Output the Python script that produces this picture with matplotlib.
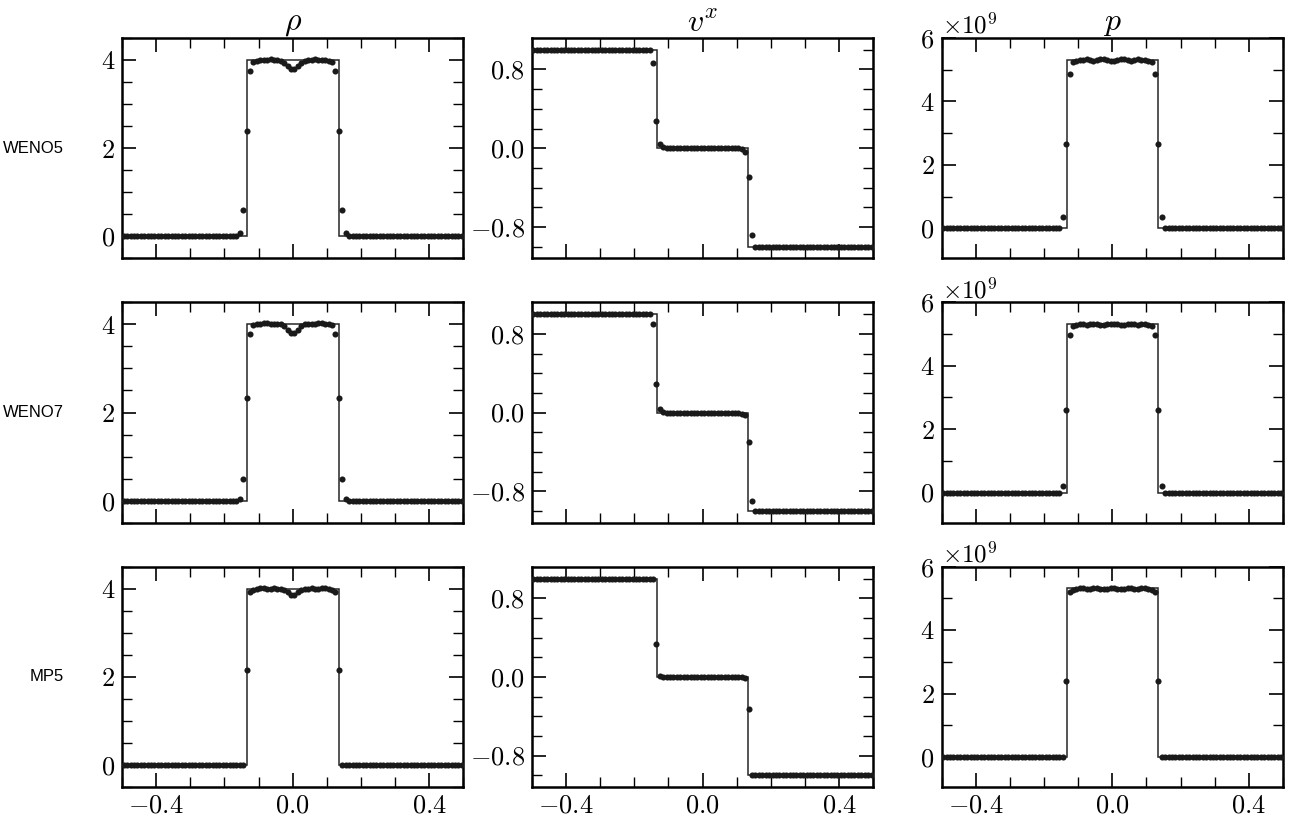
import numpy as np
import matplotlib
matplotlib.use("Agg")
import matplotlib.pyplot as plt
from matplotlib.ticker import MultipleLocator, FuncFormatter, ScalarFormatter

plt.rcParams['font.family'] = 'serif'
plt.rcParams['font.serif'] = ['cmr10', 'DejaVu Serif']
plt.rcParams['mathtext.fontset'] = 'cm'
plt.rcParams['axes.formatter.use_mathtext'] = True

# cell centres, 100 cells on [-0.5, 0.5]
x_cells = np.linspace(-0.495, 0.495, 100)
n_left = 34   # cells left of -0.155
n_right = 34  # cells right of 0.155

# exact solution: piecewise constant between shock positions
exact_edges = [-0.5, -0.134, 0.134, 0.5]
rho_exact = [0.0, 4.0, 0.0]
vx_exact = [1.0, 0.0, -1.0]
p_exact = [0.0, 5.32, 0.0]          # x 1e9

# outer states (left, right) of the numerical solutions
rho_outer = (0.0, 0.0)
vx_outer = (1.0, -1.0)
p_outer = (0.0, 0.0)

# numerical values in the 32 cells from x=-0.155 to x=0.155
rho_weno5 = [0.08, 0.60, 2.39, 3.75,
             3.96, 3.98, 3.99, 4.00, 4.01, 4.02, 4.01, 4.00, 3.98, 3.93, 3.87, 3.80,
             3.80, 3.87, 3.93, 3.98, 4.00, 4.01, 4.02, 4.01, 4.00, 3.99, 3.98, 3.96,
             3.75, 2.39, 0.60, 0.08]
vx_weno5 = [1.00, 0.87, 0.28, 0.04,
            0.01, 0.00, 0.00, 0.00, 0.00, 0.00, 0.00, 0.00, 0.00, 0.00, 0.00, 0.00,
            0.00, 0.00, 0.00, 0.00, 0.00, 0.00, 0.00, 0.00, 0.00, 0.00, 0.00, -0.01,
            -0.04, -0.29, -0.88, -1.00]
p_weno5 = [0.00, 0.34, 2.67, 4.88,
           5.25, 5.28, 5.30, 5.31, 5.33, 5.32, 5.29, 5.30, 5.33, 5.33, 5.30, 5.28,
           5.28, 5.30, 5.33, 5.33, 5.30, 5.29, 5.32, 5.33, 5.31, 5.30, 5.28, 5.25,
           4.88, 2.67, 0.34, 0.00]

rho_weno7 = [0.04, 0.49, 2.34, 3.79,
             3.98, 4.00, 4.01, 4.03, 4.03, 4.02, 4.00, 4.00, 4.00, 3.97, 3.88, 3.81,
             3.81, 3.88, 3.97, 4.00, 4.00, 4.00, 4.02, 4.03, 4.03, 4.01, 4.00, 3.98,
             3.79, 2.34, 0.49, 0.04]
vx_weno7 = [1.00, 0.90, 0.29, 0.04,
            0.01, 0.00, 0.00, 0.00, 0.00, 0.00, 0.00, 0.00, 0.00, 0.00, 0.00, 0.00,
            0.00, 0.00, 0.00, 0.00, 0.00, 0.00, 0.00, 0.00, 0.00, 0.00, 0.00, -0.01,
            -0.03, -0.30, -0.90, -1.00]
p_weno7 = [0.00, 0.20, 2.60, 4.96,
           5.27, 5.30, 5.32, 5.31, 5.29, 5.31, 5.33, 5.32, 5.29, 5.30, 5.33, 5.31,
           5.31, 5.33, 5.30, 5.29, 5.32, 5.33, 5.31, 5.29, 5.31, 5.32, 5.30, 5.27,
           4.96, 2.60, 0.20, 0.00]

rho_mp5 = [0.00, 0.00, 2.15, 3.93,
           3.98, 4.00, 4.01, 4.01, 4.00, 4.00, 4.01, 4.00, 4.00, 3.98, 3.92, 3.86,
           3.86, 3.92, 3.98, 4.00, 4.00, 4.01, 4.00, 4.00, 4.01, 4.01, 4.00, 3.98,
           3.93, 2.15, 0.00, 0.00]
vx_mp5 = [1.00, 1.00, 0.33, 0.01,
          0.00, 0.00, 0.00, 0.00, 0.00, 0.00, 0.00, 0.00, 0.00, 0.00, 0.00, 0.00,
          0.00, 0.00, 0.00, 0.00, 0.00, 0.00, 0.00, 0.00, 0.00, 0.00, 0.00, 0.00,
          -0.01, -0.33, -1.00, -1.00]
p_mp5 = [0.00, 0.00, 2.38, 5.20,
         5.28, 5.30, 5.32, 5.33, 5.31, 5.30, 5.32, 5.33, 5.31, 5.30, 5.31, 5.32,
         5.32, 5.31, 5.30, 5.31, 5.33, 5.32, 5.30, 5.31, 5.33, 5.32, 5.30, 5.28,
         5.20, 2.38, 0.00, 0.00]

schemes = ['WENO5', 'WENO7', 'MP5']
columns = [r'$\rho$', r'$v^x$', r'$p$']
numeric = [[rho_weno5, vx_weno5, p_weno5],
           [rho_weno7, vx_weno7, p_weno7],
           [rho_mp5, vx_mp5, p_mp5]]
exacts = [rho_exact, vx_exact, p_exact]
outers = [rho_outer, vx_outer, p_outer]
scales = [1.0, 1.0, 1e9]


def full_profile(mid, outer, scale):
    """pad the shock region with the constant outer states"""
    arr = np.concatenate([np.full(n_left, outer[0]), mid, np.full(n_right, outer[1])])
    return arr * scale


def style_axis(ax, col):
    ax.set_xlim(-0.5, 0.5)
    ax.xaxis.set_major_locator(MultipleLocator(0.4))
    ax.xaxis.set_minor_locator(MultipleLocator(0.1))
    ax.xaxis.set_major_formatter(FuncFormatter(lambda v, _: r'$%.1f$' % v))
    if col == 0:
        ax.set_ylim(-0.5, 4.5)
        ax.yaxis.set_major_locator(MultipleLocator(2))
        ax.yaxis.set_minor_locator(MultipleLocator(0.5))
        ax.yaxis.set_major_formatter(FuncFormatter(lambda v, _: r'$%d$' % round(v)))
    elif col == 1:
        ax.set_ylim(-1.12, 1.12)
        ax.yaxis.set_major_locator(MultipleLocator(0.8))
        ax.yaxis.set_minor_locator(MultipleLocator(0.2))
        ax.yaxis.set_major_formatter(FuncFormatter(lambda v, _: r'$%.1f$' % (v + 0.0)))
    else:
        ax.set_ylim(-0.95e9, 6e9)
        ax.yaxis.set_major_locator(MultipleLocator(2e9))
        ax.yaxis.set_minor_locator(MultipleLocator(1e9))
        fmt = ScalarFormatter(useMathText=True)
        fmt.set_powerlimits((0, 0))
        ax.yaxis.set_major_formatter(fmt)
        ax.yaxis.get_offset_text().set_fontsize(18)
    ax.tick_params(which='both', direction='in', top=True, right=True, labelsize=19)
    ax.tick_params(which='major', length=10, width=1.2, pad=5)
    ax.tick_params(which='minor', length=7, width=1.0)
    for s in ax.spines.values():
        s.set_linewidth(1.8)


fig, axes = plt.subplots(3, 3, figsize=(12.94, 8.23), dpi=100, sharex=True)
fig.subplots_adjust(left=0.0943, right=0.9915, top=0.9538, bottom=0.0437,
                    wspace=0.2, hspace=0.2)

for r in range(3):
    for c in range(3):
        ax = axes[r, c]
        ax.stairs(np.array(exacts[c]) * scales[c], exact_edges, color='0.15', lw=1.1,
                  baseline=None, zorder=2)
        y = full_profile(numeric[r][c], outers[c], scales[c])
        ax.plot(x_cells, y, 'o', color='0.1', ms=4.4, mew=0, zorder=3)
        style_axis(ax, c)
        if r == 0:
            ax.set_title(columns[c], fontsize=23, pad=3)
    axes[r, 0].text(-0.17, 2.0, schemes[r], transform=axes[r, 0].get_yaxis_transform(),
                    ha='right', va='center', fontsize=12, family='Liberation Sans')

fig.savefig('out.png', dpi=100)
